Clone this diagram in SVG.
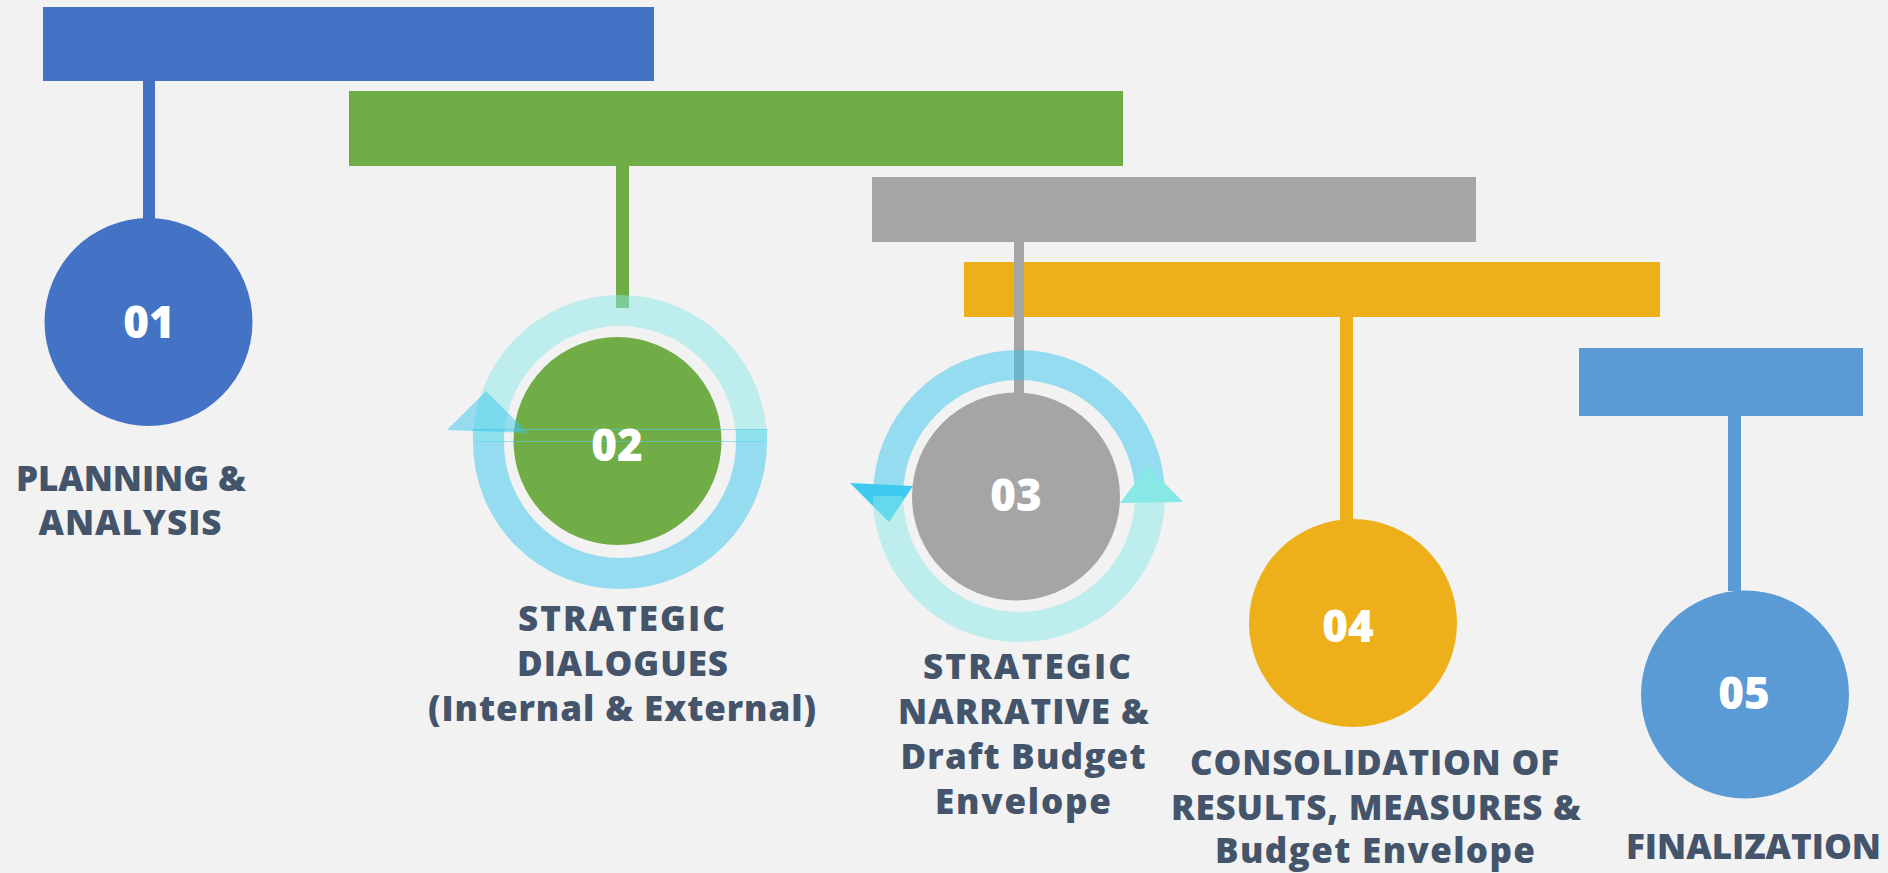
<svg xmlns="http://www.w3.org/2000/svg" width="1888" height="873" viewBox="0 0 1888 873">
<style>
.num{font-family:"Open Sans","Liberation Sans",sans-serif;font-weight:800;font-size:44px;fill:#FFFFFF;text-anchor:middle}
.lbl{font-family:"Open Sans","Liberation Sans",sans-serif;font-weight:800;font-size:35px;fill:#44546A;text-anchor:middle}
.ringBlue{fill:rgb(56,198,238);fill-opacity:0.5}
.ringCyan{fill:rgb(136,232,230);fill-opacity:0.5}
.edge{stroke:rgb(90,205,230);stroke-opacity:0.6;stroke-width:1;fill:none}
</style>
<rect x="0" y="0" width="1888" height="873" fill="#F2F2F2"/>

<g id="bars">
  <g id="bar-01"><rect x="43" y="7" width="611" height="74" fill="#4472C4"/></g>
  <g id="bar-02"><rect x="349" y="91" width="774" height="75" fill="#70AD47"/></g>
  <g id="bar-03"><rect x="872" y="177" width="604" height="65" fill="#A5A5A5"/></g>
  <g id="bar-04"><rect x="964" y="262" width="696" height="55" fill="#EDB01A"/></g>
  <g id="bar-05"><rect x="1579" y="348" width="284" height="68" fill="#5B9BD5"/></g>
</g>

<g id="connectors">
  <rect x="143" y="81" width="12" height="138" fill="#4472C4"/>
  <rect x="616" y="166" width="13" height="142" fill="#70AD47"/>
  <rect x="1014" y="242" width="10" height="151" fill="#A5A5A5"/>
  <rect x="1340" y="317" width="13" height="203" fill="#EDB01A"/>
  <rect x="1728" y="416" width="13" height="175" fill="#5B9BD5"/>
</g>

<g id="node-01">
  <circle cx="148.5" cy="322" r="104" fill="#4472C4"/>
  <text class="num" x="149" y="337.5">01</text>
  <text class="lbl" x="131" y="491" textLength="230">PLANNING &amp;</text>
  <text class="lbl" x="130" y="535" textLength="183">ANALYSIS</text>
</g>

<g id="node-02">
  <circle cx="617.5" cy="441" r="104" fill="#70AD47"/>
  <path class="ringBlue" d="M 473 429 L 473 442 A 147 147 0 0 0 767 442 L 767 429 L 736 429 L 736 442 A 116 116 0 0 1 504 442 L 504 429 Z"/>
  <path class="ringCyan" d="M 473 442 A 147 147 0 0 1 767 442 L 736 442 A 116 116 0 0 0 504 442 Z"/>
  <line class="edge" x1="472" y1="429.5" x2="768" y2="429.5"/>
  <line class="edge" x1="476" y1="441.5" x2="763" y2="441.5"/>
  <polygon class="ringBlue" points="447,430 486,391 528,433"/>
  <text class="num" x="617" y="460.5">02</text>
  <text class="lbl" x="621.5" y="631" textLength="207">STRATEGIC</text>
  <text class="lbl" x="622.5" y="676" textLength="211">DIALOGUES</text>
  <text class="lbl" x="622" y="721" textLength="388">(Internal &amp; External)</text>
</g>

<g id="node-03">
  <circle cx="1016" cy="496.5" r="104" fill="#A5A5A5"/>
  <path class="ringBlue" d="M 873 496 A 146 146 0 0 1 1165 496 L 1135 496 A 116 116 0 0 0 903 496 Z"/>
  <polygon points="850,483 913,486 889,522" fill="rgb(62,202,240)"/>
  <path class="ringCyan" d="M 873 496 A 146 146 0 0 0 1165 496 L 1135 496 A 116 116 0 0 1 903 496 Z"/>
  <polygon points="1120,503 1148,466 1183,502" fill="rgb(136,232,230)"/>
  <text class="num" x="1016" y="510.5">03</text>
  <text class="lbl" x="1027" y="679" textLength="208">STRATEGIC</text>
  <text class="lbl" x="1023.5" y="724" textLength="251">NARRATIVE &amp;</text>
  <text class="lbl" x="1023" y="769" textLength="245">Draft Budget</text>
  <text class="lbl" x="1023" y="814" textLength="176">Envelope</text>
</g>

<g id="node-04">
  <circle cx="1353" cy="623" r="104" fill="#EDB01A"/>
  <text class="num" x="1348" y="642">04</text>
  <text class="lbl" x="1374.5" y="775" textLength="369">CONSOLIDATION OF</text>
  <text class="lbl" x="1376" y="820" textLength="410">RESULTS, MEASURES &amp;</text>
  <text class="lbl" x="1375" y="863" textLength="320">Budget Envelope</text>
</g>

<g id="node-05">
  <circle cx="1745" cy="694.5" r="104" fill="#5B9BD5"/>
  <text class="num" x="1744" y="709">05</text>
  <text class="lbl" x="1753.5" y="859" textLength="255">FINALIZATION</text>
</g>
</svg>
